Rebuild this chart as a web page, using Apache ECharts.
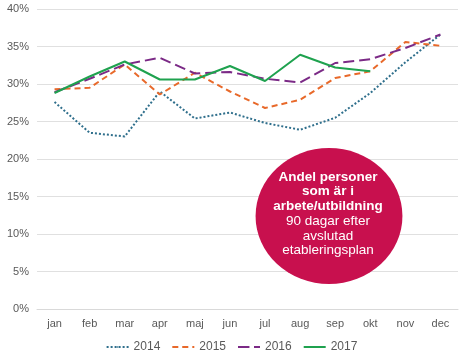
<!DOCTYPE html>
<html><head><meta charset="utf-8">
<script src="https://cdn.jsdelivr.net/npm/echarts@6/dist/echarts.min.js"></script>
<style>html,body{margin:0;padding:0;background:#fff}#c{width:463px;height:364px}</style>
</head><body><div id="c"></div>
<script>
const months = ['jan','feb','mar','apr','maj','jun','jul','aug','sep','okt','nov','dec'];
const yTicks = [0,5,10,15,20,25,30,35,40];
const s2014 = [27.6,23.5,23.0,29.0,25.4,26.2,24.8,23.9,25.5,28.8,32.9,36.6];
const s2015 = [29.3,29.5,32.6,28.6,31.5,29.0,26.8,27.9,30.8,31.7,35.6,35.1];
const s2016 = [28.9,30.7,32.6,33.5,31.4,31.6,30.7,30.2,32.8,33.3,34.8,36.6];
const s2017 = [28.8,31.0,33.0,30.6,30.6,32.4,30.4,33.9,32.2,31.7,null,null];
const seriesNames = ['2014','2015','2016','2017'];
const noteLines = ['Andel personer','som är i','arbete/utbildning','90 dagar efter','avslutad','etableringsplan'];

const chart = echarts.init(document.getElementById('c'));
const font = 'Liberation Sans, Arial, sans-serif';
function mk(name, data, color, type){
  return {name, type:'line', data, symbol:'none', smooth:false,
    lineStyle:{color, width:2, type}, itemStyle:{color}};
}
chart.setOption({
  animation:false,
  grid:{left:37, right:5, top:9, bottom:55},
  xAxis:{type:'category', data:months, boundaryGap:true,
    axisLine:{lineStyle:{color:'#d9d9d9'}}, axisTick:{show:false},
    axisLabel:{color:'#595959', fontSize:11, fontFamily:font, margin:9}},
  yAxis:{type:'value', min:0, max:40, interval:5,
    axisLabel:{color:'#595959', fontSize:11, fontFamily:font, formatter:v=>v+'%', margin:8},
    axisLine:{show:false}, axisTick:{show:false},
    splitLine:{lineStyle:{color:'#e0e0e0'}}},
  legend:{bottom:6, left:'center', itemWidth:22, itemHeight:2, itemGap:11,
    textStyle:{color:'#595959', fontSize:12, fontFamily:font},
    data:seriesNames},
  series:[
    mk(seriesNames[0], s2014, '#2f6f8c', 'dotted'),
    mk(seriesNames[1], s2015, '#e8692a', [6,4]),
    mk(seriesNames[2], s2016, '#7b2a86', [11,5]),
    mk(seriesNames[3], s2017, '#1fa24f', 'solid')
  ],
  graphic:[
    {type:'circle', x:329, y:216, scaleX:1.08, shape:{cx:0, cy:0, r:68}, style:{fill:'#c8104e'}, z:10}
  ].concat(noteLines.map((t,i)=>({
    type:'text', z:11, x:328, y:177+i*14.7,
    style:{text:t, fill:'#fff', fontSize:13.5, fontFamily:font,
      fontWeight: i<3 ? 'bold':'normal', align:'center', verticalAlign:'middle'}
  })))
});
</script></body></html>
